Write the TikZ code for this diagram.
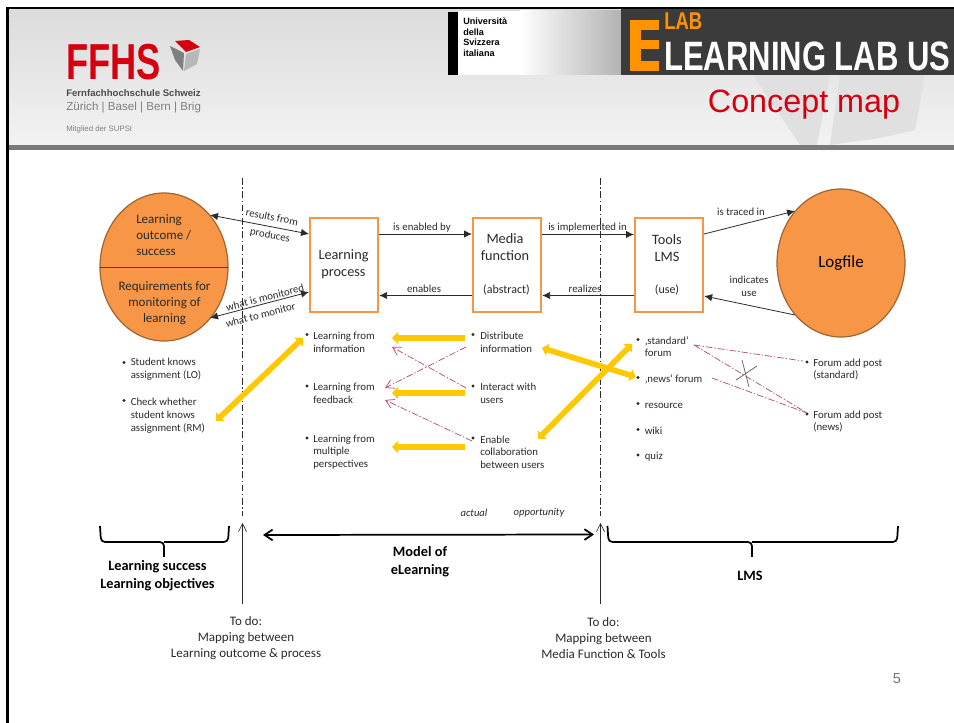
\documentclass[tikz,border=0pt]{standalone}
\usepackage{fontspec}
\usepackage{graphicx}
\setmainfont{Carlito}
\newfontfamily\arial{Liberation Sans}
\usetikzlibrary{arrows.meta,calc,shapes.geometric}
\definecolor{boxor}{HTML}{F79646}
\definecolor{ordk}{HTML}{A0652F}
\definecolor{ink}{HTML}{2A2A2A}
\definecolor{goldy}{HTML}{FFC800}
\definecolor{redd}{HTML}{BC4F66}
\definecolor{ffhs}{HTML}{D40010}
\newcommand{\fsz}[2]{\fontsize{\dimexpr#1pt*3/4\relax}{\dimexpr#2pt*3/4\relax}\selectfont}
\tikzset{
 x=0.75pt,y=-0.75pt,
 procbox/.style={draw=boxor,line width=1.6pt,fill=white,minimum width=51pt,minimum height=70.5pt,inner sep=0pt,anchor=north west},
 blob/.style={ellipse,draw=ordk,line width=0.9pt,fill=boxor},
 lab/.style={text=ink,inner sep=0pt,align=center,font=\fsz{10.8}{12.7}},
 big/.style={text=ink,inner sep=0pt,align=center,font=\fsz{14.3}{17}},
 ell/.style={text=ink,inner sep=0pt,align=center,font=\fsz{13}{16}},
 bul/.style={text=ink,inner sep=0pt,align=left,anchor=west,font=\fsz{10.8}{12.7}},
 dot/.style={circle,fill=ink,inner sep=0pt,minimum size=2.4pt},
 flow/.style={draw=ink,line width=0.6pt,-{Latex[length=6pt,width=5.5pt]}},
 flowb/.style={draw=ink,line width=0.6pt,{Latex[length=6pt,width=5.5pt]}-{Latex[length=6pt,width=5.5pt]}},
 gold/.style={draw=goldy,line width=4.2pt,-{Triangle[length=4.5pt,width=9pt]}},
 goldb/.style={draw=goldy,line width=4.2pt,{Triangle[length=4.5pt,width=9pt]}-{Triangle[length=4.5pt,width=9pt]}},
 reddash/.style={draw=redd,line width=0.55pt,dash pattern=on 5pt off 1.5pt on 1pt off 1.5pt},
 redarr/.style={reddash,-{Straight Barb[length=6pt,width=7pt]}},
 divider/.style={draw=ink,line width=0.6pt,dash pattern=on 5pt off 2pt on 1pt off 2pt},
 todo/.style={draw=ink,line width=0.45pt,-{Straight Barb[length=6pt,width=6pt]}},
 brace/.style={draw=black,line width=1.3pt,rounded corners=3pt},
 btitle/.style={text=black,inner sep=0pt,align=center,font=\bfseries\fsz{14.3}{18}},
 todotext/.style={text=ink,inner sep=0pt,align=center,font=\fsz{13}{16}},
}
\begin{document}
\begin{tikzpicture}
\useasboundingbox (0,0) rectangle (954,723);
\fill[white] (0,0) rectangle (954,723);
% header
\shade[top color=black!14,bottom color=black!5] (8,9) rectangle (954,145);
\fill[black!12] (753,75)--(830,75)--(817,145)--(800,145)--cycle;
\fill[black!12] (840,75)--(925,75)--(915,130)--(880,138)--(830,145)--cycle;
\fill[black!52] (8,145) rectangle (954,150);
% FFHS logo
\node[inner sep=0pt,anchor=north west,text=ffhs] (ffhslogo) at (66,44) {\resizebox{71pt}{26.5pt}{\arial\bfseries FFHS}};
\fill[black!50] (170,46)--(184,53)--(183,71)--(175,60)--cycle;
\fill[black!28] (186,54)--(200,49)--(197,64)--(184,71)--cycle;
\fill[ffhs] (175,41)--(189,40)--(200,47)--(186,52)--cycle;
\node[inner sep=0pt,anchor=west,text=black!70] (ffhsa) at (66,93.5) {\arial\bfseries\fsz{9.6}{12}Fernfachhochschule Schweiz};
\node[inner sep=0pt,anchor=west,text=black!50] (ffhsb) at (66,107.5) {\arial\fsz{11.6}{14}Zürich | Basel | Bern | Brig};
\node[inner sep=0pt,anchor=west,text=black!50] (ffhsc) at (66,129) {\arial\fsz{7.8}{10}Mitglied der SUPSI};
% USI
\shade[left color=white,right color=black!30] (520,11) rectangle (621,75);
\fill[white] (458,11) rectangle (521,75);
\fill[black] (448,12) rectangle (458,75);
\node[inner sep=0pt,anchor=north west,align=left,text=black,font=\arial\bfseries\fsz{9.1}{10.7}] (usi) at (463,17.5) {Università\\della\\Svizzera\\italiana};
% E-learning banner
\fill[black!77] (621,9) rectangle (954,75);
\fill[orange!85!yellow] (630,20) rectangle (659,71);
\fill[black!77] (641,30) rectangle (659,40.5);
\fill[black!77] (641,49.5) rectangle (659,61);
\node[inner sep=0pt,anchor=north west,text=orange!85!yellow] (lablogo) at (664,12.5) {\resizebox{28.5pt}{12.5pt}{\arial\bfseries LAB}};
\node[inner sep=0pt,anchor=north west,text=white] (ell) at (664,42) {\resizebox{214.5pt}{21.5pt}{\arial\bfseries LEARNING LAB US}};
\node[inner sep=0pt,text=ffhs] (title) at (804,105) {\arial\fsz{32.3}{36}Concept map};
% frame
\draw[black,line width=1.8pt] (7.5,723)--(7.5,8)--(954,8);
% dividers
\coordinate (da) at (242.5,178); \coordinate (db) at (242.5,516);
\coordinate (dc) at (600.5,178); \coordinate (dd) at (600.5,516);
\draw[divider] (da)--(db);
\draw[divider] (dc)--(dd);
% nodes
\node[blob,minimum width=96pt,minimum height=111pt,inner sep=0pt] (lo) at (164,267) {};
\coordinate (loL) at (100.3,267); \coordinate (loR) at (227.7,267);
\draw[ordk!60!black,line width=0.6pt] (loL)--(loR);
\node[ell,align=left,anchor=west] (lo1) at (136,235.5) {Learning\\outcome /\\success};
\node[ell] (lo2) at (164.5,303.5) {Requirements for\\monitoring of\\learning};
\node[procbox] (lp) at (309,217) {};
\node[big] at (343.5,264.5) (lpt) {Learning\\process};
\node[procbox] (mf) at (472,217) {};
\node[big] (mft) at (505,247) {Media\\function};
\node[lab,font=\fsz{12}{14}] (mfu) at (506.5,290) {(abstract)};
\node[procbox] (tl) at (634,217) {};
\node[big] (tlt) at (667,248.5) {Tools\\LMS};
\node[lab,font=\fsz{12}{14}] (tlu) at (667,289.5) {(use)};
\node[blob,minimum width=96pt,minimum height=111pt,inner sep=0pt] (lf) at (841,263) {};
\node[text=black,inner sep=0pt,font=\fsz{17}{20}] (lft) at (841,263) {Logfile};
% top connectors
\coordinate (a1) at (210,215); \coordinate (a2) at (309,234);
\coordinate (b1) at (210,318); \coordinate (b2) at (309,292);
\draw[flowb] (a1)--(a2);
\draw[flowb] (b1)--(b2);
\node[lab,rotate=-11] (t1) at (272,217) {results from};
\node[lab,rotate=-11] (t2) at (270,235.5) {produces};
\node[lab,rotate=14.5] (t3) at (265,297.5) {what is monitored};
\node[lab,rotate=14.5] (t4) at (260.5,315) {what to monitor};
\draw[flow] (lp.east|-a2)--(mf.west|-a2);
\draw[flow] (mf.west|-0,295.5)--(lp.east|-0,295.5);
\draw[flow] (mf.east|-0,234.5)--(tl.west|-0,234.5);
\draw[flow] (tl.west|-0,295.5)--(mf.east|-0,295.5);
\coordinate (c1) at (795,211); \coordinate (c2) at (795,315);
\draw[flow] (tl.east|-0,234)--(c1);
\draw[flow] (c2)--(tl.east|-0,296);
\node[lab] (t5) at (422,228) {is enabled by};
\node[lab] (t6) at (424,289) {enables};
\node[lab] (t7) at (587.5,227.5) {is implemented in};
\node[lab] (t8) at (585,288.5) {realizes};
\node[lab] (t9) at (741,212) {is traced in};
\node[lab] (t10) at (749,286) {indicates\\use};
% left lists
\node[dot] (d1) at (124,362.5) {}; \node[bul] (n1) at (130.5,369.5) {Student knows\\assignment (LO)};
\node[dot] (d2) at (124,400.5) {}; \node[bul] (n2) at (130.5,415.5) {Check whether\\student knows\\assignment (RM)};
\node[dot] (d3) at (307,334.5) {}; \node[bul] (n3) at (313,342) {Learning from\\information};
\node[dot] (d4) at (307,386) {}; \node[bul] (n4) at (313,393.5) {Learning from\\feedback};
\node[dot] (d5) at (307,438) {}; \node[bul] (n5) at (313,452) {Learning from\\multiple\\perspectives};
\node[dot] (d6) at (473,334.5) {}; \node[bul] (n6) at (480,342) {Distribute\\information};
\node[dot] (d7) at (473,386) {}; \node[bul] (n7) at (480,393.5) {Interact with\\users};
\node[dot] (d8) at (473,438) {}; \node[bul] (n8) at (480,452) {Enable\\collaboration\\between users};
\node[dot] (d9) at (638,339.5) {}; \node[bul] (n9) at (644.5,346.5) {‚standard‘\\forum};
\node[dot] (d10) at (638,377.5) {}; \node[bul] (n10) at (644.5,379) {‚news‘ forum};
\node[dot] (d11) at (638,403.5) {}; \node[bul] (n11) at (644.5,405.5) {resource};
\node[dot] (d12) at (638,429.5) {}; \node[bul] (n12) at (644.5,431) {wiki};
\node[dot] (d13) at (638,455) {}; \node[bul] (n13) at (644.5,457) {quiz};
\node[dot] (d14) at (807,362) {}; \node[bul] (n14) at (813,369.5) {Forum add post\\(standard)};
\node[dot] (d15) at (807,414) {}; \node[bul] (n15) at (813,421.5) {Forum add post\\(news)};
% gold arrows
\coordinate (g1) at (303,338); \coordinate (g2) at (216,421);
\draw[goldb] (g1)--(g2);
\coordinate (g3) at (465,338); \coordinate (g4) at (392,338);
\coordinate (g5) at (465,393); \coordinate (g6) at (392,393);
\coordinate (g7) at (465,447); \coordinate (g8) at (392,447);
\draw[gold] (g3)--(g4); \draw[gold] (g5)--(g6); \draw[gold] (g7)--(g8);
\coordinate (g9) at (542,348); \coordinate (g10) at (636,377);
\coordinate (g11) at (632,344); \coordinate (g12) at (538,439);
\draw[goldb] (g9)--(g10);
\draw[goldb] (g11)--(g12);
% red links
\coordinate (r1) at (466,347); \coordinate (r2) at (385,388);
\coordinate (r3) at (466,388); \coordinate (r4) at (392,347);
\coordinate (r5) at (472,441); \coordinate (r6) at (385,400);
\draw[redarr] (r1)--(r2); \draw[redarr] (r3)--(r4); \draw[redarr] (r5)--(r6);
\coordinate (s1) at (694,345); \coordinate (s2) at (803,361);
\coordinate (s3) at (807,413); \coordinate (s4) at (712,378);
\draw[reddash] (s1)--(s2); \draw[reddash] (s1)--(s3); \draw[reddash] (s4)--(s3);
\coordinate (x1) at (742,360); \coordinate (x2) at (749,387);
\coordinate (x3) at (736,380); \coordinate (x4) at (757,366);
\draw[black!60,line width=0.55pt] (x1)--(x2); \draw[black!60,line width=0.55pt] (x3)--(x4);
% bottom
\coordinate (u1) at (242.5,604); \coordinate (u2) at (242.5,523);
\coordinate (u3) at (600.5,604); \coordinate (u4) at (600.5,523);
\draw[todo] (u1)--(u2); \draw[todo] (u3)--(u4);
\coordinate (m1) at (263,535); \coordinate (m2) at (594,534.5);
\draw[black,line width=1.3pt,{Straight Barb[length=6pt,width=8pt]}-{Straight Barb[length=6pt,width=8pt]}] (m1)--(m2);
\draw[brace] (100,526)--(101,542)--(164,542)--(164,557);
\draw[brace] (164,542)--(228,542)--(229,526);
\draw[brace] (607.5,526)--(608.5,542)--(752,542)--(752,557);
\draw[brace] (752,542)--(897,542)--(898,526);
\node[btitle] (e1) at (157.5,575.5) {Learning success\\Learning objectives};
\node[btitle] (e2) at (420,561.5) {Model of\\eLearning};
\node[btitle] (e3) at (750,576) {LMS};
\node[lab,font=\itshape\fsz{10.6}{12}] (e4) at (474,512.5) {actual};
\node[lab,font=\itshape\fsz{10.6}{12}] (e5) at (539,512.5) {opportunity};
\node[todotext] (f1) at (246,638.5) {To do:\\Mapping between\\Learning outcome \& process};
\node[todotext] (f2) at (603.5,638.5) {To do:\\Mapping between\\Media Function \& Tools};
\node[inner sep=0pt,text=black!55] (pg) at (897,679) {\arial\fsz{14.5}{16}5};
\end{tikzpicture}
\end{document}
